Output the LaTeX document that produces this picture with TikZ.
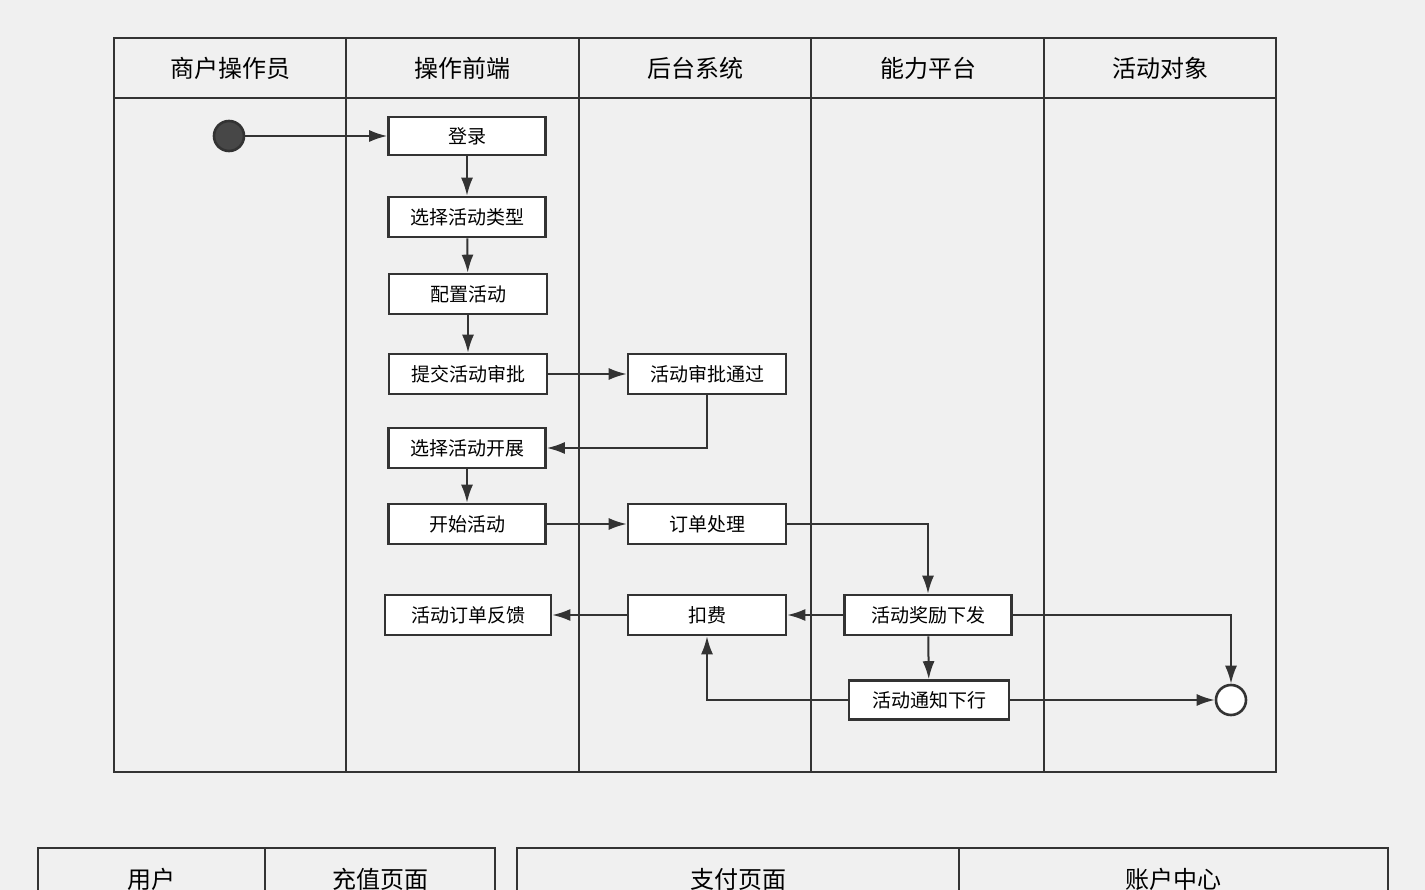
\documentclass[tikz,border=0pt]{standalone}
\usepackage{fontspec}
\setmainfont{Noto Sans CJK SC}
\usetikzlibrary{arrows.meta}
\definecolor{bg}{HTML}{F0F0F0}
\definecolor{ln}{HTML}{333333}
\begin{document}
\begin{tikzpicture}[x=1pt,y=-1pt,
  lane/.style={draw=ln,line width=2.6pt},
  box/.style={draw=ln,line width=2.6pt,fill=white,minimum height=40pt,inner sep=0pt,font=\fontsize{19}{19}\selectfont},
  hd/.style={font=\fontsize{24}{24}\selectfont},
  ar/.style={draw=ln,line width=2pt,-{Latex[length=18pt,width=12pt]}}]
\useasboundingbox (0,0) rectangle (1425,890);
\fill[bg] (0,0) rectangle (1425,890);
% lanes
\draw[lane] (114,38) rectangle (1276,772);
\draw[lane] (114,98) -- (1276,98);
\foreach \x in {346,579,811,1044} \draw[lane] (\x,38) -- (\x,772);
\node[hd] (h1) at (230,68) {商户操作员};
\node[hd] (h2) at (462,68) {操作前端};
\node[hd] (h3) at (695,68) {后台系统};
\node[hd] (h4) at (928,68) {能力平台};
\node[hd] (h5) at (1160,68) {活动对象};
% bottom tables
\draw[lane] (38,900) -- (38,848) -- (495,848) -- (495,900);
\draw[lane] (265,848) -- (265,900);
\draw[lane] (517,900) -- (517,848) -- (1388,848) -- (1388,900);
\draw[lane] (959,848) -- (959,900);
\node[hd] (b1) at (151,879) {用户};
\node[hd] (b2) at (380,879) {充值页面};
\node[hd] (b3) at (738,879) {支付页面};
\node[hd] (b4) at (1173,879) {账户中心};
% nodes
\node[circle,draw=ln,line width=2.6pt,fill=ln!90,minimum size=30pt,inner sep=0pt] (s) at (229,136) {};
\node[box,minimum width=157pt,minimum height=38pt] (n1) at (467,136) {登录};
\node[box,minimum width=157pt] (n2) at (467,217) {选择活动类型};
\node[box,minimum width=158pt] (n3) at (468,294) {配置活动};
\node[box,minimum width=158pt] (n4) at (468,374) {提交活动审批};
\node[box,minimum width=158pt] (n5) at (707,374) {活动审批通过};
\node[box,minimum width=157pt] (n6) at (467,448) {选择活动开展};
\node[box,minimum width=157pt] (n7) at (467,524) {开始活动};
\node[box,minimum width=158pt] (n8) at (707,524) {订单处理};
\node[box,minimum width=166pt] (n9) at (468,615) {活动订单反馈};
\node[box,minimum width=158pt] (n10) at (707,615) {扣费};
\node[box,minimum width=167pt] (n11) at (928,615) {活动奖励下发};
\node[box,minimum width=160pt,minimum height=39pt] (n12) at (929,700) {活动通知下行};
\node[circle,draw=ln,line width=2.6pt,fill=white,minimum size=30pt,inner sep=0pt] (e) at (1231,700) {};
% edges
\draw[ar] (s) -- (n1);
\draw[ar] (n1) -- (n2);
\draw[ar] (n2) -- (n3);
\draw[ar] (n3) -- (n4);
\draw[ar] (n4) -- (n5);
\draw[ar] (n5.south) |- (n6.east);
\draw[ar] (n6) -- (n7);
\draw[ar] (n7) -- (n8);
\draw[ar] (n8.east) -| (n11.north);
\draw[ar] (n11) -- (n10);
\draw[ar] (n10) -- (n9);
\draw[ar] (n11.east) -| (e.north);
\draw[ar] (n11) -- (n12);
\draw[ar] (n12.west) -| (n10.south);
\draw[ar] (n12) -- (e);
\end{tikzpicture}
\end{document}
